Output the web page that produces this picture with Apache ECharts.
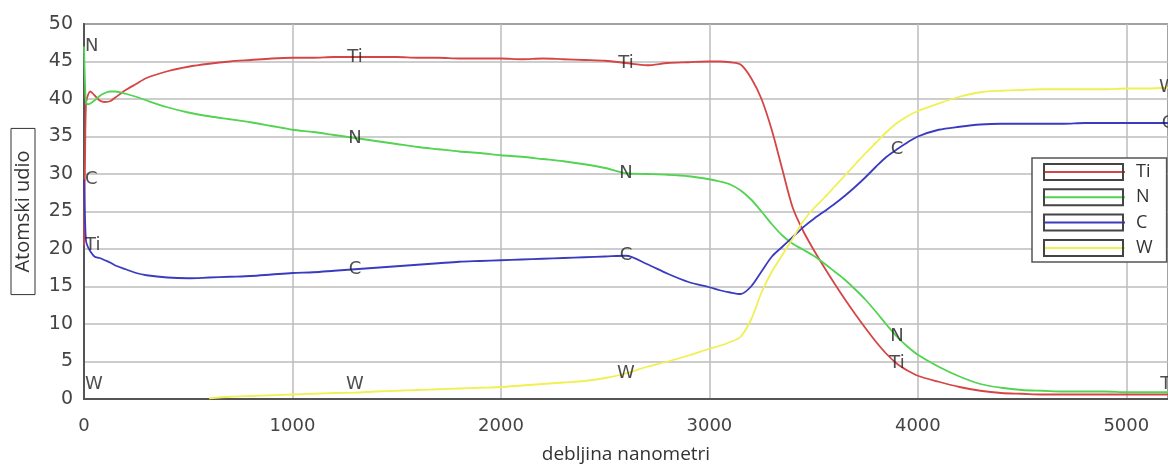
<!DOCTYPE html>
<html><head><meta charset="utf-8">
<script src="https://cdn.jsdelivr.net/npm/echarts@6/dist/echarts.min.js"></script>
<style>html,body{margin:0;padding:0;background:#fff}#c{width:1168px;height:465px}</style>
</head><body><div id="c"></div>
<script>
// depth (nm)
const depth = [0,5,10,20,30,50,75,100,125,150,200,250,300,400,500,600,700,800,900,1000,
  1100,1200,1300,1400,1500,1600,1700,1800,1900,2000,2100,2200,2300,2400,2500,2600,2700,2800,2900,3000,
  3050,3100,3150,3200,3250,3300,3350,3400,3450,3500,3550,3600,3650,3700,3750,3800,3850,3900,3950,4000,
  4100,4200,4300,4400,4500,4600,4700,4800,4900,5000,5100,5200];
const ti = [20.5,32.0,39.5,40.6,41.0,40.5,39.8,39.6,39.7,40.2,
  41.2,42.0,42.8,43.7,44.3,44.7,45.0,45.2,45.4,45.5,
  45.5,45.6,45.6,45.6,45.6,45.5,45.5,45.4,45.4,45.4,
  45.3,45.4,45.3,45.2,45.1,44.8,44.5,44.8,44.9,45.0,
  45.0,44.9,44.6,42.8,40.0,35.8,30.6,25.5,22.4,19.9,
  17.6,15.4,13.3,11.3,9.4,7.6,6.0,4.7,3.8,3.1,
  2.3,1.6,1.1,0.8,0.7,0.6,0.6,0.6,0.6,0.6,0.6,0.6];
const nitrogen = [47.0,42.0,39.5,39.3,39.4,39.8,40.4,40.8,41.0,41.0,
  40.7,40.3,39.8,38.9,38.2,37.7,37.3,36.9,36.4,35.9,
  35.6,35.2,34.8,34.4,34.0,33.6,33.3,33.0,32.8,32.5,
  32.3,32.0,31.7,31.3,30.8,30.1,30.0,29.9,29.7,29.3,
  29.0,28.6,27.8,26.6,25.0,23.3,21.8,20.7,19.9,19.1,
  18.1,17.0,15.9,14.6,13.2,11.6,9.9,8.3,7.0,5.9,
  4.3,3.0,2.0,1.5,1.2,1.1,1.0,1.0,1.0,0.9,0.9,0.9];
const carbon = [29.3,24.0,21.0,20.2,19.7,19.0,18.8,18.5,18.2,17.8,
  17.3,16.8,16.5,16.2,16.1,16.2,16.3,16.4,16.6,16.8,
  16.9,17.1,17.3,17.5,17.7,17.9,18.1,18.3,18.4,18.5,
  18.6,18.7,18.8,18.9,19.0,19.1,18.0,16.7,15.6,14.9,
  14.5,14.2,14.0,15.0,17.0,19.0,20.3,21.6,22.9,24.0,
  25.0,26.0,27.1,28.3,29.6,31.0,32.3,33.3,34.2,35.0,
  35.9,36.3,36.6,36.7,36.7,36.7,36.7,36.8,36.8,36.8,36.8,36.8];
const tungsten = [0,null,null,null,null,null,null,null,null,null,
  null,null,null,null,null,0.1,0.3,0.4,0.5,0.6,
  0.7,0.8,0.85,1.0,1.1,1.2,1.3,1.4,1.5,1.6,
  1.8,2.0,2.2,2.4,2.8,3.4,4.3,5.0,5.8,6.7,
  7.1,7.6,8.3,10.6,14.2,17.0,19.2,21.4,23.7,25.4,
  26.8,28.3,29.8,31.3,32.8,34.2,35.6,36.8,37.7,38.4,
  39.4,40.3,40.9,41.1,41.2,41.3,41.3,41.3,41.3,41.4,41.4,41.5];

const names = ['Ti','N','C','W'];
const colors = ['#d64545','#52d352','#3b3bbf','#f0f052'];
const values = {Ti: ti, N: nitrogen, C: carbon, W: tungsten};
// depths where the element name is written on its curve
const labelDepths = {Ti:[0,1300,2600,3900,5200], N:[0,1300,2600,3900], C:[0,1300,2600,3900,5200], W:[0,1300,2600,5200]};

const FONT = "'Open Sans', 'DejaVu Sans', sans-serif";
const NUMFONT = "'DejaVu Sans', sans-serif";

const lineSeries = names.map((nm, k) => ({
  name: nm, type: 'line', showSymbol: false, symbol: 'none', smooth: 0.3,
  color: colors[k],
  lineStyle: {width: 1.8, color: colors[k]},
  data: depth.map((d, i) => [d, values[nm][i]]),
  z: 3
}));

const labelItems = [];
names.forEach(nm => {
  labelDepths[nm].forEach(d => {
    const i = depth.indexOf(d);
    const v = values[nm][i];
    labelItems.push({
      name: nm,
      value: [d, Math.max(v, 2)],
      label: d === 0 ? {align: 'left', offset: [1, 0]} : {}
    });
  });
});

const legendCommon = {
  data: names, orient: 'vertical', left: 1032, top: 158,
  itemGap: 7.3, padding: [5, 14, 5, 11], selectedMode: false
};

const chart = echarts.init(document.getElementById('c'), null, {renderer: 'canvas'});
chart.setOption({
  animation: false,
  backgroundColor: '#fff',
  grid: {left: 84, right: 0, top: 24, bottom: 66, outerBoundsMode: 'none', containLabel: false,
    show: true, borderColor: '#555', borderWidth: 2, backgroundColor: 'transparent'},
  xAxis: {
    type: 'value', min: 0, max: 5200, interval: 1000,
    name: 'debljina nanometri', nameLocation: 'middle', nameGap: 46,
    nameTextStyle: {fontSize: 19, color: '#333', fontFamily: FONT},
    axisLine: {show: true, lineStyle: {color: '#555', width: 2}},
    axisTick: {show: false},
    axisLabel: {fontSize: 18, color: '#444', margin: 18, fontFamily: NUMFONT, showMaxLabel: false,
      formatter: v => String(v)},
    splitLine: {show: true, lineStyle: {color: '#bdbdbd', width: 1.5}}
  },
  yAxis: {
    type: 'value', min: 0, max: 50, interval: 5,
    name: 'Atomski udio', nameLocation: 'middle', nameGap: 49, nameRotate: 90,
    nameTextStyle: {fontSize: 20, color: '#333', fontFamily: FONT, borderColor: '#333', borderWidth: 1, padding: [2, 22, 2, 22]},
    axisLine: {show: true, lineStyle: {color: '#555', width: 2}},
    axisTick: {show: false},
    axisLabel: {fontSize: 19, color: '#444', margin: 11, fontFamily: NUMFONT},
    splitLine: {show: true, lineStyle: {color: '#bdbdbd', width: 1.5}}
  },
  legend: [
    Object.assign({}, legendCommon, {
      itemWidth: 81, itemHeight: 18,
      backgroundColor: '#fff', borderColor: '#555', borderWidth: 1.5,
      itemStyle: {color: 'transparent', borderWidth: 0, opacity: 0},
      lineStyle: {width: 2},
      textStyle: {fontSize: 18, lineHeight: 18, color: '#333', fontFamily: FONT, padding: [0, 0, 0, 6]},
      z: 5
    }),
    Object.assign({}, legendCommon, {
      icon: 'rect', itemWidth: 79, itemHeight: 16, borderWidth: 0,
      itemStyle: {color: 'transparent', borderColor: '#444', borderWidth: 2},
      textStyle: {fontSize: 18, lineHeight: 18, color: 'transparent', fontFamily: FONT, padding: [0, 0, 0, 8]},
      z: 6
    })
  ],
  series: lineSeries.concat([{
    name: 'labels', type: 'scatter', symbolSize: 0, silent: true, z: 10,
    label: {show: true, position: 'inside', formatter: '{b}', fontSize: 18, color: '#222', fontFamily: NUMFONT},
    data: labelItems
  }])
});
</script>
</body></html>
